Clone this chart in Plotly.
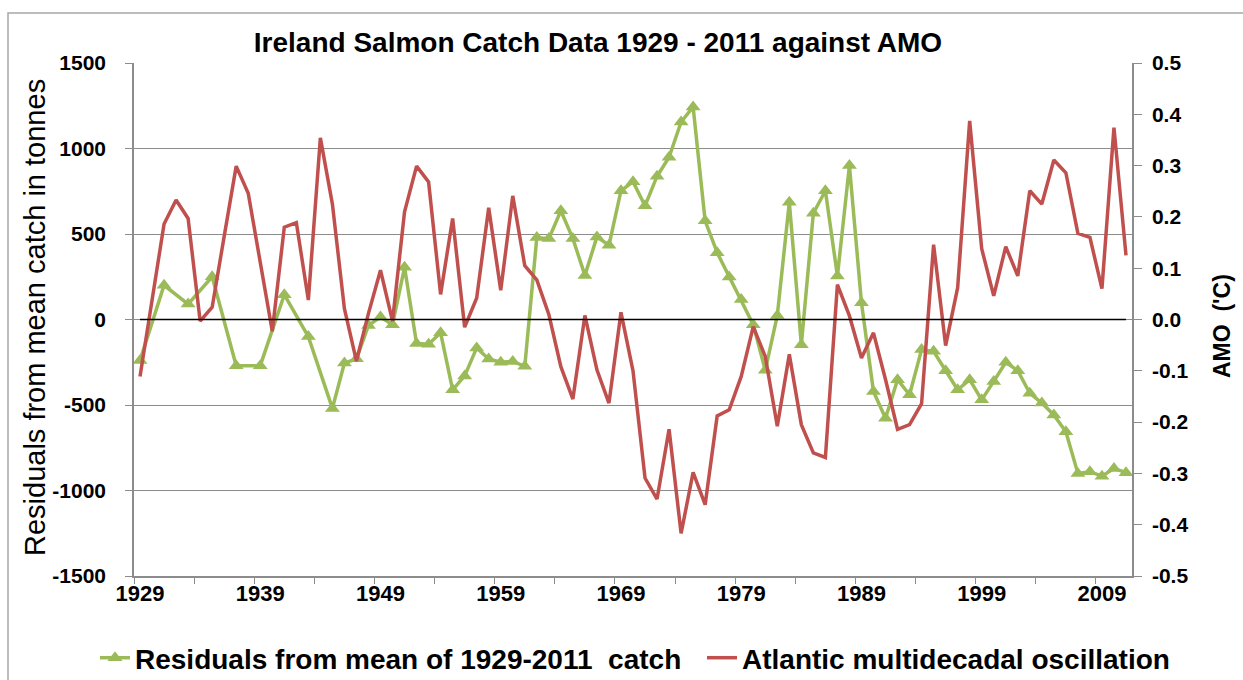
import plotly.graph_objects as go

# ---- data ----
catch_years = [1929, 1931, 1933, 1935, 1937, 1939, 1941, 1943, 1945] + list(range(1946, 2012))
catch_resid = [-240, 200, 90, 250, -270, -270, 145, -100, -520,
               -255, -230, -35, 15, -30, 305, -141, -145, -78, -411,
               -330, -166, -231, -250, -245, -274, 479, 473, 636, 473,
               258, 483, 434, 753, 806, 665, 838, 949, 1155, 1243,
               577, 391, 249, 117, -30, -297, 23, 685, -147, 622,
               753, 254, 900, 98, -421, -577, -352, -440, -176, -186,
               -299, -411, -352, -470, -362, -250, -299, -431, -489, -558,
               -656, -900, -890, -916, -871, -896]

amo_years = list(range(1929, 2012))
amo_values = [-0.111, 0.037, 0.186, 0.233, 0.197, -0.003, 0.024, 0.162, 0.299, 0.246,
              0.112, -0.023, 0.180, 0.189, 0.038, 0.354, 0.225, 0.021, -0.081, 0.012,
              0.096, -0.003, 0.210, 0.299, 0.268, 0.049, 0.197, -0.015, 0.042, 0.218,
              0.057, 0.241, 0.105, 0.077, 0.010, -0.092, -0.155, 0.008, -0.098, -0.163,
              0.014, -0.100, -0.309, -0.350, -0.214, -0.417, -0.298, -0.361, -0.188, -0.176,
              -0.111, -0.014, -0.072, -0.208, -0.068, -0.205, -0.260, -0.269, 0.068, 0.007,
              -0.075, -0.026, -0.117, -0.214, -0.205, -0.164, 0.146, -0.051, 0.062, 0.387,
              0.138, 0.046, 0.142, 0.085, 0.251, 0.225, 0.311, 0.286, 0.168, 0.160,
              0.060, 0.374, 0.125]

x_label_years = [1929, 1939, 1949, 1959, 1969, 1979, 1989, 1999, 2009]
left_tick_vals = [1500, 1000, 500, 0, -500, -1000, -1500]
left_tick_text = ["1500", "1000", "500", "0", "-500", "-1000", "-1500"]
right_tick_vals = [0.5, 0.4, 0.3, 0.2, 0.1, 0.0, -0.1, -0.2, -0.3, -0.4, -0.5]
right_tick_text = ["0.5", "0.4", "0.3", "0.2", "0.1", "0.0", "-0.1", "-0.2", "-0.3", "-0.4", "-0.5"]

GREEN = "#9BBB59"
RED = "#C0504D"
GRID = "#8C8C8C"
FONT = "Liberation Sans, Arial"

W, H = 1243, 680
L, R, T, B = 134, 111, 63, 104
pw = W - L - R
ph = H - T - B

def px_x(p):
    return (p - L) / pw

def px_y(p):
    return (H - B - p) / ph

fig = go.Figure()

fig.add_trace(go.Scatter(
    x=catch_years, y=catch_resid, mode="lines+markers",
    name="Residuals from mean of 1929-2011  catch",
    line=dict(color=GREEN, width=3.5),
    marker=dict(symbol="triangle-up", size=13, color=GREEN),
    legend="legend", yaxis="y", showlegend=True,
))
fig.add_trace(go.Scatter(
    x=amo_years, y=amo_values, mode="lines",
    name="Atlantic multidecadal oscillation",
    line=dict(color=RED, width=3.5),
    legend="legend2", yaxis="y2", showlegend=True,
))

fig.add_shape(type="line", xref="x", yref="y",
              x0=amo_years[0], x1=amo_years[-1], y0=0, y1=0,
              line=dict(color="black", width=1.5), layer="above")

# outer chart border
fig.add_shape(type="rect", xref="paper", yref="paper",
              x0=px_x(8), x1=px_x(1260), y0=px_y(700), y1=px_y(13),
              line=dict(color="#A6A6A6", width=1.5), layer="below")

# axis titles as annotations for exact placement
fig.add_annotation(text="Residuals from mean catch in tonnes", textangle=-90,
                   xref="paper", yref="paper", x=px_x(35), y=px_y(318),
                   xanchor="center", yanchor="middle", showarrow=False,
                   font=dict(size=29, family=FONT, color="black"))
fig.add_annotation(text="<b>AMO  ('C)</b>", textangle=-90,
                   xref="paper", yref="paper", x=px_x(1222), y=px_y(326),
                   xanchor="center", yanchor="middle", showarrow=False,
                   font=dict(size=23, family=FONT, color="black"))

fig.update_layout(
    width=W, height=H,
    margin=dict(l=L, r=R, t=T, b=B, autoexpand=False),
    showlegend=True,
    paper_bgcolor="white", plot_bgcolor="white",
    font=dict(family=FONT, color="black"),
    title=dict(text="<b>Ireland Salmon Catch Data 1929 - 2011 against AMO</b>",
               font=dict(size=28, family=FONT, color="black"),
               x=598 / W, xanchor="center", y=1 - 42 / H, yanchor="middle"),
    xaxis=dict(
        range=[1928.5, 2011.5], tickvals=x_label_years, ticktext=[str(v) for v in x_label_years],
        ticks="", showgrid=False, zeroline=False, automargin=False,
        showline=True, linecolor=GRID, linewidth=1.5,
        tickfont=dict(size=22, family=FONT, color="black", weight="bold"),
        minor=dict(tick0=1928.5, dtick=5, ticks="outside", ticklen=6, tickcolor=GRID, showgrid=False),
        ticklabelstandoff=-3,
    ),
    yaxis=dict(
        range=[-1500, 1500], tickvals=left_tick_vals, ticktext=left_tick_text,
        ticks="outside", ticklen=7, tickcolor=GRID, automargin=False,
        showgrid=True, gridcolor=GRID, gridwidth=1.2, zeroline=False,
        showline=True, linecolor=GRID, linewidth=1.5,
        tickfont=dict(size=21, family=FONT, color="black", weight="bold"),
        ticklabelstandoff=15,
    ),
    yaxis2=dict(
        range=[-0.5, 0.5], tickvals=right_tick_vals, ticktext=right_tick_text,
        overlaying="y", side="right", automargin=False,
        ticks="outside", ticklen=8, tickcolor=GRID,
        showgrid=False, zeroline=False,
        showline=True, linecolor=GRID, linewidth=1.5,
        tickfont=dict(size=21, family=FONT, color="black", weight="bold"),
        ticklabelstandoff=6,
    ),
    legend=dict(orientation="h", x=px_x(95), xanchor="left", y=px_y(658), yanchor="middle",
                font=dict(size=28, family=FONT, color="black", weight="bold"),
                bgcolor="rgba(0,0,0,0)"),
    legend2=dict(orientation="h", x=px_x(702), xanchor="left", y=px_y(658), yanchor="middle",
                 font=dict(size=28, family=FONT, color="black", weight="bold"),
                 bgcolor="rgba(0,0,0,0)"),
)

fig.write_html("out.html", config={"displayModeBar": False},
               post_script="document.body.style.margin='0px';")
